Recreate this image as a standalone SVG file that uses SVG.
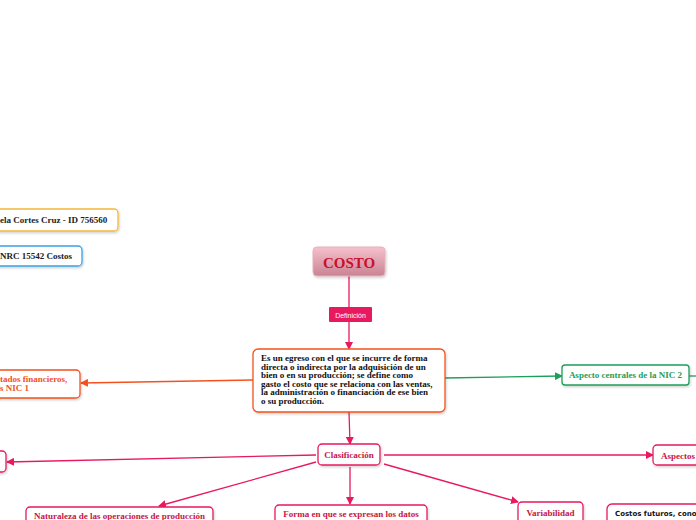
<svg xmlns="http://www.w3.org/2000/svg" width="696" height="520" viewBox="0 0 696 520">
<defs>
<linearGradient id="gCosto" x1="0" y1="0" x2="0" y2="1">
<stop offset="0" stop-color="#f6c1cc"/>
<stop offset="1" stop-color="#c98393"/>
</linearGradient>
<filter id="sh" x="-10%" y="-10%" width="130%" height="140%">
<feDropShadow dx="1" dy="1.5" stdDeviation="1" flood-color="#000" flood-opacity="0.18"/>
</filter>
<marker id="aPink" markerWidth="8" markerHeight="8" refX="7" refY="4" orient="auto" markerUnits="userSpaceOnUse">
<path d="M0,0 L8,4 L0,8 Z" fill="#e8195e"/>
</marker>
<marker id="aOrange" markerWidth="8" markerHeight="8" refX="7" refY="4" orient="auto" markerUnits="userSpaceOnUse">
<path d="M0,0 L8,4 L0,8 Z" fill="#f4511e"/>
</marker>
<marker id="aGreen" markerWidth="8" markerHeight="8" refX="7" refY="4" orient="auto" markerUnits="userSpaceOnUse">
<path d="M0,0 L8,4 L0,8 Z" fill="#1e9e5a"/>
</marker>
</defs>
<style>
.box{fill:#fff;stroke-width:1.3;filter:url(#sh)}
.pk{stroke:#e8195e}
.t{font-family:"Liberation Serif",serif;font-weight:bold;font-size:9px}
.tp{fill:#c8153f}
.ln{fill:none;stroke-width:1.3}
</style>
<rect width="696" height="520" fill="#fff"/>

<g id="connectors">
<line class="ln" x1="349" y1="276" x2="349" y2="307" stroke="#e8195e"/>
<line class="ln" x1="349" y1="322" x2="349" y2="349" stroke="#e8195e" marker-end="url(#aPink)"/>
<line class="ln" x1="253" y1="380" x2="81" y2="383" stroke="#f4511e" marker-end="url(#aOrange)"/>
<line class="ln" x1="445" y1="378" x2="562" y2="376" stroke="#1e9e5a" marker-end="url(#aGreen)"/>
<line class="ln" x1="689" y1="376" x2="696" y2="376" stroke="#1e9e5a"/>
<line class="ln" x1="349" y1="412" x2="350" y2="444" stroke="#e8195e" marker-end="url(#aPink)"/>
<line class="ln" x1="316" y1="455" x2="7" y2="462" stroke="#e8195e" marker-end="url(#aPink)"/>
<line class="ln" x1="316" y1="462" x2="159" y2="506" stroke="#e8195e" marker-end="url(#aPink)"/>
<line class="ln" x1="350" y1="467" x2="350" y2="504" stroke="#e8195e" marker-end="url(#aPink)"/>
<line class="ln" x1="384" y1="464" x2="518" y2="502" stroke="#e8195e" marker-end="url(#aPink)"/>
<line class="ln" x1="384" y1="455" x2="653" y2="455" stroke="#e8195e" marker-end="url(#aPink)"/>
</g>

<g id="nombre">
<rect class="box" x="-10" y="209" width="128" height="22" rx="4" stroke="#f5b73b"/>
<text class="t" x="0" y="223" fill="#222">ela Cortes Cruz - ID 756560</text>
</g>
<g id="nrc">
<rect class="box" x="-10" y="246" width="92" height="20" rx="4" stroke="#3aa3e3"/>
<text class="t" x="0" y="259" fill="#222">NRC 15542 Costos</text>
</g>

<g id="costo">
<rect x="313" y="247" width="72" height="29" rx="4" fill="url(#gCosto)" stroke="#e6b0bb" stroke-width="1" filter="url(#sh)"/>
<text x="349" y="268" text-anchor="middle" font-family="Liberation Serif,serif" font-weight="bold" font-size="15" fill="#c8102e">COSTO</text>
</g>

<g id="definicion">
<rect x="329" y="307" width="43" height="15" rx="1" fill="#e8195e"/>
<text x="350.5" y="317.5" text-anchor="middle" font-family="Liberation Sans,Arial,sans-serif" font-size="7" fill="#fff">Definición</text>
</g>

<g id="definicion-texto">
<rect class="box" x="253" y="349" width="192" height="63" rx="5" stroke="#f4511e"/>
<text class="t" fill="#111">
<tspan x="261" y="361">Es un egreso con el que se incurre de forma</tspan>
<tspan x="261" y="369.5">directa o indirecta por la adquisición de un</tspan>
<tspan x="261" y="378">bien o en su producción; se define como</tspan>
<tspan x="261" y="386.5">gasto el costo que se relaciona con las ventas,</tspan>
<tspan x="261" y="395">la administración o financiación de ese bien</tspan>
<tspan x="261" y="403.5">o su producción.</tspan>
</text>
</g>

<g id="estados">
<rect class="box" x="-10" y="370" width="90" height="28" rx="4" stroke="#f4511e"/>
<text class="t" fill="#f4511e"><tspan x="0" y="382">tados financieros,</tspan><tspan x="0" y="391">s NIC 1</tspan></text>
</g>

<g id="nic2">
<rect class="box" x="562" y="365" width="127" height="20" rx="3" stroke="#1e9e5a"/>
<text class="t" x="625.5" y="378" text-anchor="middle" fill="#1e9e5a">Aspecto centrales de la NIC 2</text>
</g>

<g id="clasificacion">
<rect class="box pk" x="318" y="444" width="62" height="21" rx="4"/>
<text class="t tp" x="349" y="457.5" text-anchor="middle">Clasificación</text>
</g>

<g id="izquierda">
<rect class="box pk" x="-10" y="451" width="16" height="21" rx="4"/>
</g>

<g id="naturaleza">
<rect class="box pk" x="26" y="507" width="187" height="22" rx="4"/>
<text class="t tp" x="119.5" y="519" text-anchor="middle">Naturaleza de las operaciones de producción</text>
</g>

<g id="forma">
<rect class="box pk" x="275" y="505" width="152" height="22" rx="4"/>
<text class="t tp" x="351" y="516.5" text-anchor="middle">Forma en que se expresan los datos</text>
</g>

<g id="variabilidad">
<rect class="box pk" x="518" y="502" width="65" height="24" rx="4"/>
<text class="t tp" x="550.5" y="515.5" text-anchor="middle">Variabilidad</text>
</g>

<g id="aspectos">
<rect class="box pk" x="653" y="445" width="60" height="20" rx="4"/>
<text class="t tp" x="661" y="458.5">Aspectos</text>
</g>

<g id="futuros">
<rect class="box pk" x="607" y="504" width="100" height="24" rx="5"/>
<text x="615" y="516" font-family="DejaVu Sans,Verdana,sans-serif" font-weight="bold" font-size="7" fill="#111">Costos futuros, cono</text>
</g>
</svg>
